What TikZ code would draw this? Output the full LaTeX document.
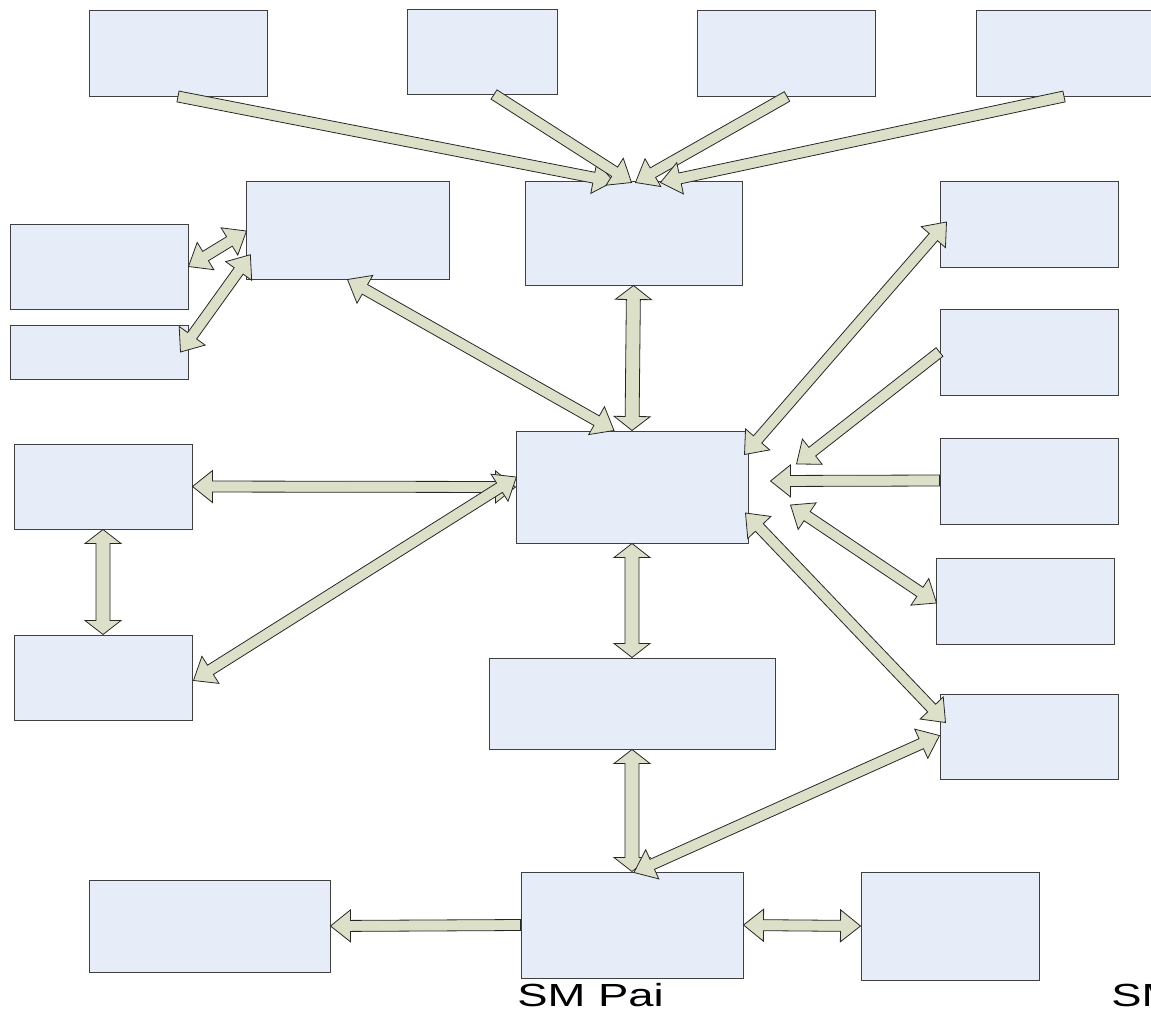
\documentclass[tikz,border=0pt]{standalone}
\usepackage{fontspec}
\newfontfamily\labelfont{Liberation Sans}
\usetikzlibrary{calc}
\definecolor{boxfill}{RGB}{230,237,248}
\definecolor{arrowfill}{RGB}{221,224,201}

\tikzset{
  box/.style={rectangle, draw=black!75, line width=1pt, fill=boxfill, inner sep=0pt},
  barrow/.style={draw=black!85, line width=0.8pt, fill=arrowfill, line join=miter},
  bshaft/.store in=\bshaft, bhead/.store in=\bhead, bheadlen/.store in=\bheadlen,
  bshaft=5.5pt, bhead=16pt, bheadlen=20pt,
  wide/.style={bshaft=7pt, bhead=18pt, bheadlen=14pt}
}

% block arrow with one head, tip at #3
\newcommand{\onearrow}[3][]{%
  \draw[barrow,#1] let \p1=(#2), \p2=(#3),
    \n1={atan2(\y2-\y1,\x2-\x1)}, \n2={veclen(\x2-\x1,\y2-\y1)} in
    [shift={(\p1)}, rotate=\n1]
    (0pt,-\bshaft) -- ({\n2-\bheadlen},-\bshaft) -- ({\n2-\bheadlen},-\bhead)
    -- ({\n2+0pt},0pt) -- ({\n2-\bheadlen},\bhead) -- ({\n2-\bheadlen},\bshaft)
    -- (0pt,\bshaft) -- cycle;}

% block arrow with two heads
\newcommand{\twoarrow}[3][]{%
  \draw[barrow,#1] let \p1=(#2), \p2=(#3),
    \n1={atan2(\y2-\y1,\x2-\x1)}, \n2={veclen(\x2-\x1,\y2-\y1)} in
    [shift={(\p1)}, rotate=\n1]
    (0pt,0pt) -- (\bheadlen,\bhead) -- (\bheadlen,\bshaft)
    -- ({\n2-\bheadlen},\bshaft) -- ({\n2-\bheadlen},\bhead) -- ({\n2+0pt},0pt)
    -- ({\n2-\bheadlen},-\bhead) -- ({\n2-\bheadlen},-\bshaft)
    -- (\bheadlen,-\bshaft) -- (\bheadlen,-\bhead) -- cycle;}

\begin{document}
\begin{tikzpicture}[x=1pt, y=-1pt]
\useasboundingbox (0,0) rectangle (1151,1010);
\clip (0,0) rectangle (1151,1010);

% top row
\node[box, minimum width=178, minimum height=86] (tA) at (178,53) {};
\node[box, minimum width=150, minimum height=85] (tB) at (482,51.5) {};
\node[box, minimum width=178, minimum height=86] (tC) at (786,53) {};
\node[box, minimum width=176, minimum height=86] (tD) at (1064,53) {};

% upper part
\node[box, minimum width=203, minimum height=98] (upl) at (347.5,230) {};
\node[box, minimum width=217, minimum height=104] (upc) at (633.5,233) {};
\node[box, minimum width=178, minimum height=85] (lA) at (99,266.5) {};
\node[box, minimum width=178, minimum height=54] (lB) at (99,352) {};

% right column
\node[box, minimum width=178, minimum height=86] (rA) at (1029,224) {};
\node[box, minimum width=178, minimum height=86] (rB) at (1029,352) {};
\node[box, minimum width=178, minimum height=86] (rC) at (1029,481) {};
\node[box, minimum width=178, minimum height=86] (rD) at (1025,601) {};
\node[box, minimum width=178, minimum height=85] (rE) at (1029,736.5) {};

% middle
\node[box, minimum width=232, minimum height=112] (hub) at (632,487) {};
\node[box, minimum width=178, minimum height=85] (mA) at (103,486.5) {};
\node[box, minimum width=178, minimum height=85] (mB) at (103,677.5) {};
\node[box, minimum width=286, minimum height=91] (mid) at (632,703.5) {};

% bottom row
\node[box, minimum width=222, minimum height=106] (pai) at (632,925) {};
\node[box, minimum width=241, minimum height=92] (pl) at (209.5,926) {};
\node[box, minimum width=178, minimum height=108] (pr) at (950,926) {};

\node[font=\labelfont\fontsize{32}{38}\selectfont, xscale=1.42, anchor=base west, inner sep=0pt] (paiLabel) at (517,1006) {SM Pai};
\node[font=\labelfont\fontsize{32}{38}\selectfont, xscale=1.42, anchor=base west, inner sep=0pt] (prLabel) at (1111,1006) {SM};

% into the upper centre box
\onearrow{tA.south}{$(upc.north)+(-20,1)$}
\onearrow{$(tB.south)+(12,0)$}{$(upc.north)+(-2,2)$}
\onearrow{$(tC.south)+(1,0)$}{$(upc.north)+(2,2)$}
\onearrow{tD.south}{$(upc.north)+(27,2)$}

% left side
\twoarrow{lA.east}{$(upl.west)+(1,1)$}
\twoarrow{$(lB.east)+(-8,0)$}{$(upl.south west)+(5,-25)$}
\twoarrow{upl.south}{$(hub.north)+(-18,0)$}
\twoarrow[wide]{upc.south}{hub.north}
\twoarrow{mA.east}{hub.west}
\twoarrow[wide]{mA.south}{mB.north}
\twoarrow{$(mB.east)+(1,3)$}{$(hub.west)+(1,-10)$}

% right side
\twoarrow{$(hub.north east)+(-4,24)$}{$(rA.west)+(7,-2)$}
\onearrow{rB.west}{$(hub.east)+(48,-23)$}
\onearrow{$(rC.west)+(0,-0.5)$}{$(hub.east)+(22,-6)$}
\twoarrow{$(hub.east)+(42,18)$}{$(rD.west)+(1,2)$}
\twoarrow{$(hub.east)+(-3,26)$}{$(rE.west)+(6,-14)$}

% lower part
\twoarrow[wide]{hub.south}{mid.north}
\twoarrow[wide]{mid.south}{pai.north}
\twoarrow{$(pai.north)+(2,1)$}{$(rE.west)+(0,-1)$}
\onearrow{pai.west}{pl.east}
\twoarrow{pai.east}{pr.west}

\end{tikzpicture}
\end{document}
